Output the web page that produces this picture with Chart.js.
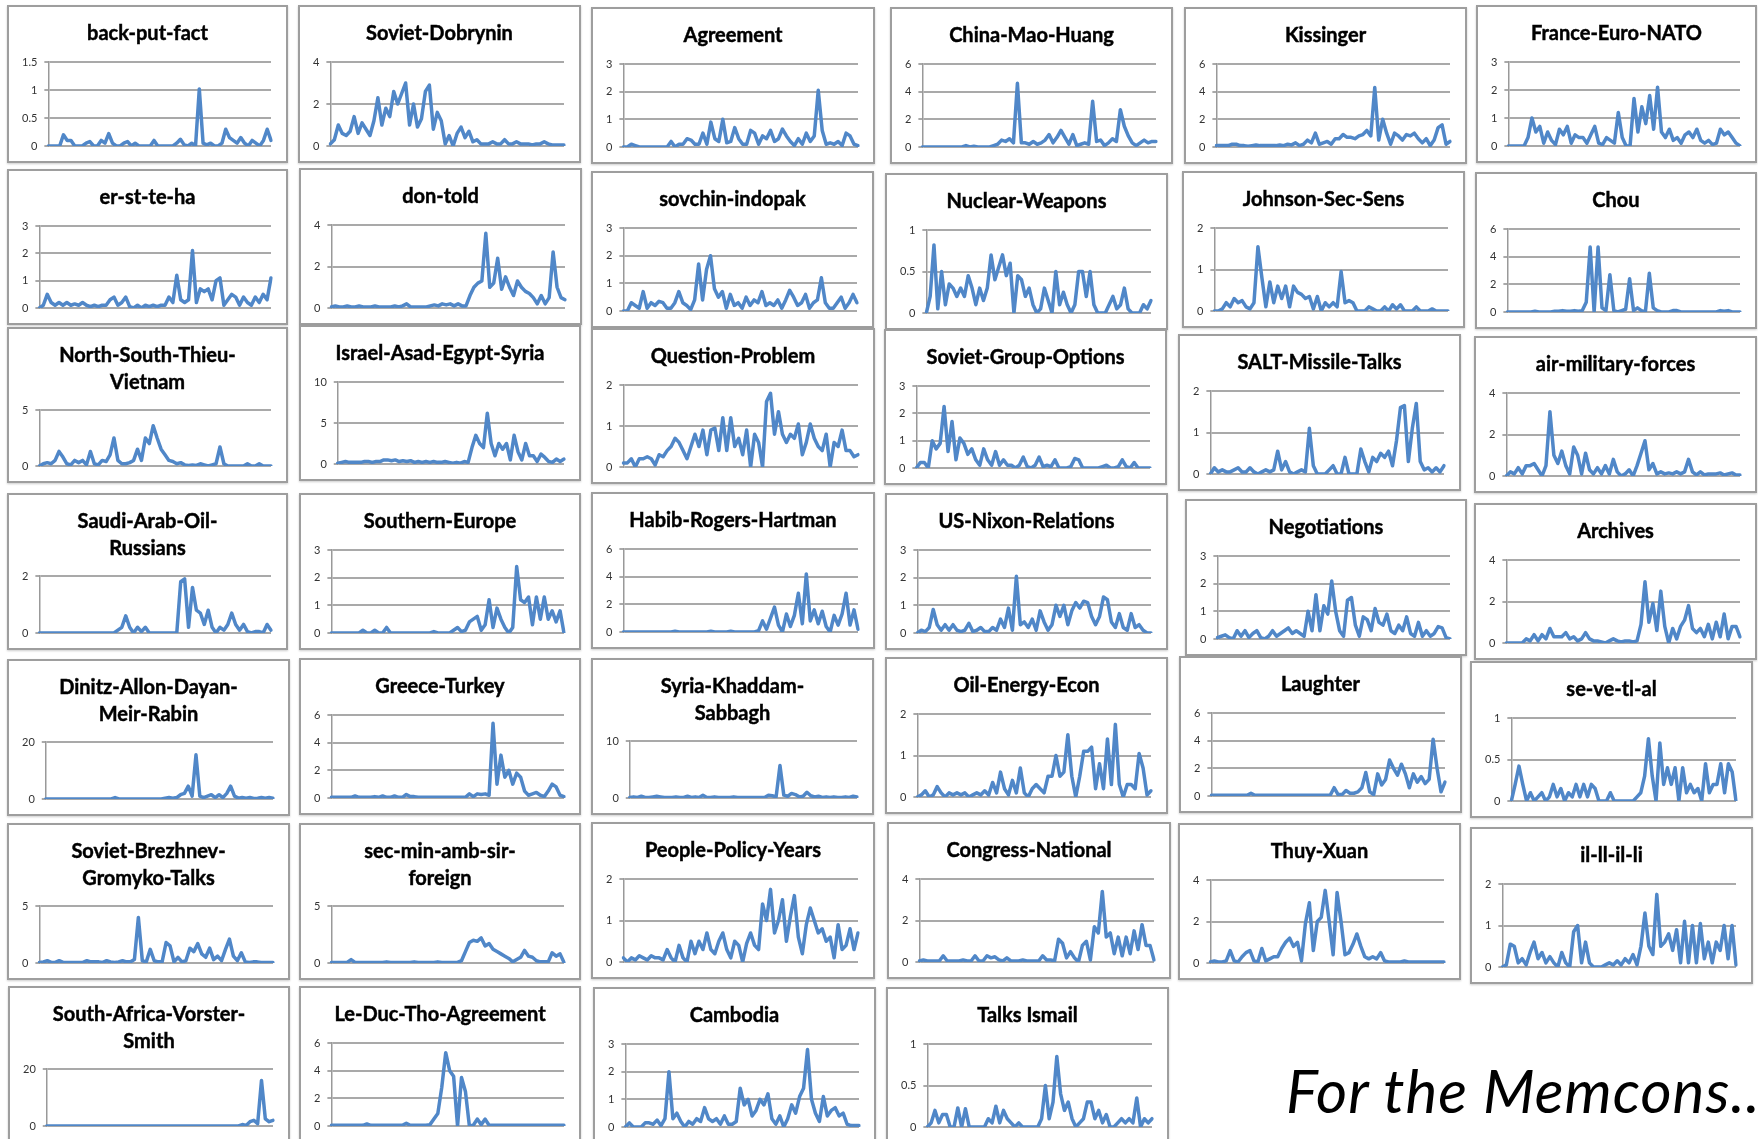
<!DOCTYPE html>
<html>
<head>
<meta charset="utf-8">
<script src="https://cdn.jsdelivr.net/npm/chart.js@4.4.1/dist/chart.umd.min.js"></script>
<style>
  html, body { margin: 0; padding: 0; background: #fff; }
  body { width: 1758px; height: 1139px; overflow: hidden; position: relative; }
  .panel {
    position: absolute; box-sizing: border-box; background: #fff;
    border: 2px solid #9e9e9e; box-shadow: 0 1px 2px rgba(0,0,0,0.2);
  }
  .panel .plot { position: absolute; left: 0; top: 0; right: 0; bottom: 0; }
  .panel .title {
    position: absolute; left: 0; right: 0; top: 12px; text-align: center;
    font-family: Lato, "Open Sans", sans-serif; font-weight: 700; font-size: 20px;
    -webkit-text-stroke: 0.45px #000;
    line-height: 27px; color: #000; white-space: nowrap; pointer-events: none;
  }
  #memcons {
    position: absolute; left: 1286px; top: 1054px; white-space: nowrap;
    font-family: Lato, "Open Sans", sans-serif; font-style: italic; font-size: 60px;
    letter-spacing: 1px; color: #000;
  }
</style>
</head>
<body>
<div id="memcons">For the Memcons..</div>
<script>
// topic titles, in reading order
var topics = [
  'back-put-fact', 'Soviet-Dobrynin', 'Agreement', 'China-Mao-Huang', 'Kissinger', 'France-Euro-NATO',
  'er-st-te-ha', 'don-told', 'sovchin-indopak', 'Nuclear-Weapons', 'Johnson-Sec-Sens', 'Chou',
  ['North-South-Thieu-', 'Vietnam'], 'Israel-Asad-Egypt-Syria', 'Question-Problem', 'Soviet-Group-Options', 'SALT-Missile-Talks', 'air-military-forces',
  ['Saudi-Arab-Oil-', 'Russians'], 'Southern-Europe', 'Habib-Rogers-Hartman', 'US-Nixon-Relations', 'Negotiations', 'Archives',
  ['Dinitz-Allon-Dayan-', 'Meir-Rabin'], 'Greece-Turkey', ['Syria-Khaddam-', 'Sabbagh'], 'Oil-Energy-Econ', 'Laughter', 'se-ve-tl-al',
  ['Soviet-Brezhnev-', 'Gromyko-Talks'], ['sec-min-amb-sir-', 'foreign'], 'People-Policy-Years', 'Congress-National', 'Thuy-Xuan', 'il-ll-il-li',
  ['South-Africa-Vorster-', 'Smith'], 'Le-Duc-Tho-Agreement', 'Cambodia', 'Talks Ismail'
];

// y axis top and tick step for each panel
var yMax  = [1.5, 4, 3, 6, 6, 3,  3, 4, 3, 1, 2, 6,  5, 10, 2, 3, 2, 4,  2, 3, 6, 3, 3, 4,  20, 6, 10, 2, 6, 1,  5, 5, 2, 4, 4, 2,  20, 6, 3, 1];
var yStep = [0.5, 2, 1, 2, 2, 1,  1, 2, 1, 0.5, 1, 2,  5, 5, 1, 1, 1, 2,  2, 1, 2, 1, 1, 2,  20, 2, 10, 1, 2, 0.5,  5, 5, 1, 2, 2, 1,  20, 2, 1, 0.5];

// time periods (x categories, unlabelled in the original)
var periods = Array.from({ length: 60 }, function (_, i) { return i + 1; });

var backPutFact = [0,0,0,0,0.2,0.1,0.1,0,0,0, 0.05,0.08,0,0,0.1,0.05,0.22,0.05,0,0, 0.05,0.08,0,0.05,0,0,0,0,0.1,0, 0,0,0,0,0.05,0.12,0.02,0,0.05,0, 1.02,0.05,0.02,0.05,0,0,0.05,0.3,0.15,0.1, 0.05,0.15,0.05,0,0.1,0.05,0,0.1,0.3,0.1];
var sovietDobrynin = [0.1,0.3,1.0,0.6,0.5,0.7,1.4,0.6,1.1,0.8, 0.5,1.2,2.3,1.0,1.8,1.4,2.6,2.0,2.5,3.0, 1.0,2.0,0.9,1.3,2.6,2.9,0.8,1.6,1.2,0.1, 0.5,0,0.6,0.9,0.4,0.7,0.2,0.3,0.1,0.1, 0.1,0.2,0.1,0.1,0.3,0.1,0.1,0.2,0.1,0.1, 0.1,0.05,0.1,0.1,0.2,0.1,0.05,0.05,0.05,0.05];
var agreement = [0,0,0.1,0.05,0,0,0,0,0,0, 0,0,0.2,0,0.1,0.1,0.3,0.25,0.1,0.1, 0.5,0.1,0.9,0.3,0.2,1.0,0.15,0.2,0.7,0.3, 0.1,0.1,0.6,0.5,0.1,0.4,0.3,0.6,0.2,0.3, 0.65,0.4,0.2,0.05,0.3,0.1,0.5,0.2,0.4,2.05, 0.6,0.1,0.15,0.1,0.2,0.05,0.5,0.4,0.1,0.05];
var chinaMaoHuang = [0,0,0,0,0,0,0,0,0,0, 0,0.1,0,0.05,0,0,0,0,0.1,0.2, 0.5,0.4,0.6,0.3,4.6,0.3,0.3,0.2,0.4,0.2, 0.3,0.5,0.9,0.3,0.7,1.2,0.7,0.2,0.9,0.1, 0.2,0.3,0.2,3.3,0.4,0.5,0.1,0.3,0.6,0.4, 2.7,1.5,0.8,0.3,0.1,0.3,0.5,0.3,0.4,0.4];
var kissinger = [0.1,0.1,0.1,0.1,0.2,0.2,0.1,0.1,0.05,0.1, 0.15,0.1,0.1,0.1,0.1,0.1,0.15,0.1,0.2,0.15, 0.3,0.1,0.2,0.5,0.3,1.0,0.2,0.3,0.4,0.2, 0.6,0.6,0.9,0.7,0.7,0.6,0.8,0.9,1.2,0.8, 4.3,0.5,2.0,1.0,0.2,1.0,0.8,0.5,0.9,0.8, 1.0,0.6,0.3,0.6,0.1,0.5,1.4,1.6,0.2,0.4];
var franceEuroNato = [0,0,0,0,0,0.3,1.0,0.5,0.7,0.1, 0.5,0.2,0.05,0.6,0.4,0.7,0.1,0.4,0.3,0.3, 0.1,0.4,0.7,0.1,0.05,0.3,0.2,0.1,1.2,0.3, 0,0,1.7,0.5,1.4,0.8,1.8,0.6,2.1,0.5, 0.3,0.6,0.2,0.3,0.1,0.4,0.5,0.3,0.6,0.2, 0.1,0.2,0.05,0.1,0.6,0.4,0.5,0.3,0.1,0];
var erStTeHa = [0,0.1,0.5,0.2,0.1,0.2,0.1,0.2,0.1,0.15, 0.1,0.2,0.1,0.05,0.1,0.05,0.1,0.1,0.3,0.4, 0.1,0.2,0.4,0.05,0,0.1,0,0.1,0.05,0.1, 0.05,0.1,0.1,0.4,0.2,1.2,0.3,0.2,0.3,2.1, 0.2,0.7,0.6,0.7,0.3,1.0,1.1,0.1,0.3,0.5, 0.4,0.1,0.4,0.2,0.1,0.4,0.2,0.5,0.3,1.1];
var donTold = [0.05,0.1,0.05,0.05,0.1,0.05,0.05,0.1,0.05,0.05, 0.05,0.1,0.05,0.05,0.05,0.05,0.1,0.05,0.1,0.2, 0.05,0.05,0.05,0.05,0.05,0.1,0.15,0.1,0.2,0.15, 0.2,0.1,0.2,0.1,0.1,0.6,1.0,1.2,1.3,3.6, 1.0,1.2,2.4,0.9,1.5,1.0,0.6,1.3,1.0,0.8, 0.7,0.5,0.2,0.6,0.2,0.5,2.7,1.0,0.5,0.4];
var sovchinIndopak = [0,0,0.3,0.2,0.1,0.7,0.1,0.3,0.2,0.35, 0.3,0.1,0.1,0.3,0.7,0.3,0.2,0.05,0.4,1.7, 0.4,1.5,2.0,0.8,0.5,0.7,0.1,0.6,0.2,0.3, 0.1,0.5,0.2,0.4,0.3,0.7,0.2,0.3,0.2,0.4, 0.1,0.4,0.75,0.5,0.2,0.3,0.6,0.1,0.3,0.4, 1.2,0.3,0.1,0.1,0.3,0.5,0.1,0.3,0.6,0.3];
var nuclearWeapons = [0,0.2,0.82,0.05,0.5,0.1,0.35,0.3,0.2,0.3, 0.2,0.45,0.3,0.1,0.3,0.15,0.3,0.7,0.4,0.55, 0.7,0.45,0.6,0,0.45,0.4,0.2,0.3,0.1,0, 0.05,0.3,0.15,0,0.5,0.1,0.25,0.1,0,0.1, 0.5,0.5,0.2,0.5,0.1,0,0,0,0.1,0.2, 0.05,0.1,0.3,0.05,0,0,0,0.1,0.05,0.15];
var johnsonSecSens = [0,0,0.05,0.2,0.1,0.3,0.2,0.25,0.1,0.05, 0.2,1.55,0.8,0.1,0.7,0.2,0.6,0.3,0.6,0.1, 0.6,0.45,0.4,0.3,0.35,0.05,0.35,0,0.2,0.1, 0.2,0.1,0.95,0.2,0.25,0.2,0,0,0,0.1, 0.05,0,0,0.1,0,0.15,0.05,0.15,0,0, 0,0.1,0,0,0,0.05,0,0,0,0];
var chou = [0,0,0,0,0,0,0,0.05,0,0, 0,0,0.05,0.05,0.1,0.05,0.05,0.1,0.05,0.1, 0.7,4.7,0,4.7,0.3,0.1,2.7,0.1,0,0.1, 0.2,2.4,0.1,0.3,0.1,0,2.8,0.3,0.1,0, 0,0,0.1,0.1,0,0,0,0,0,0, 0,0,0,0,0.1,0.05,0.1,0,0,0];
var northSouthThieu = [0,0.2,0.3,0.2,0.5,1.3,0.8,0.2,0.1,0.5, 0.3,0.5,0.1,1.3,0.2,0.1,0.5,0.4,1.0,2.5, 0.5,0.2,0.2,0.3,0.5,1.5,0.5,2.5,2.0,3.6, 2.5,1.5,1.0,0.5,0.4,0.2,0.3,0.1,0.05,0.1, 0.05,0.2,0.1,0,0.1,0.2,1.7,0.2,0,0, 0,0,0,0.2,0,0,0.2,0,0,0];
var israelAsad = [0.1,0.2,0.3,0.2,0.2,0.2,0.2,0.3,0.3,0.2, 0.3,0.3,0.5,0.5,0.4,0.5,0.3,0.4,0.3,0.4, 0.2,0.3,0.2,0.3,0.2,0.3,0.2,0.2,0.3,0.2, 0.1,0.2,0.1,0.3,0.2,2.0,3.5,2.5,2.0,6.2, 2.5,1.0,2.5,1.8,2.5,0.5,3.5,1.5,0.5,2.5, 1.0,1.0,0.3,1.2,0.8,0.3,0.2,0.6,0.3,0.6];
var questionProblem = [0.1,0.1,0.2,0,0.2,0.2,0.25,0.2,0.05,0.3, 0.25,0.4,0.5,0.7,0.6,0.4,0.2,0.5,0.8,0.5, 0.9,0.3,0.9,0.95,0.4,1.2,0.4,1.2,0.5,0.7, 0.3,0.9,0,0.8,0.6,0,1.6,1.8,0.8,1.35, 0.8,0.6,0.8,0.7,1.05,0.3,0.6,1.05,0.7,0.5, 0.4,0.8,0,0.6,0.5,0.9,0.4,0.4,0.25,0.3];
var sovietGroupOptions = [0,0.2,0.2,0,1.0,0.7,0.9,2.25,0.6,1.7, 0.3,1.1,0.9,0.5,0.7,0.3,0.1,0.7,0.3,0.1, 0.6,0.1,0.3,0.1,0.1,0,0.1,0.4,0.05,0, 0.1,0.4,0.05,0.1,0.05,0.3,0,0,0,0.05, 0.35,0.3,0,0,0,0,0,0.05,0.1,0, 0,0.05,0.3,0.05,0,0.2,0,0,0,0];
var saltMissileTalks = [0,0.15,0.05,0.1,0.05,0.05,0.1,0.15,0.05,0.05, 0.15,0.05,0,0.05,0.1,0.05,0.1,0.55,0.1,0.3, 0.05,0,0.05,0.1,0.05,1.1,0.2,0,0,0, 0.1,0.2,0,0,0.4,0,0,0,0.6,0.3, 0.05,0.4,0.3,0.5,0.4,0.55,0.2,0.8,1.6,1.65, 0.3,1.1,1.7,0.3,0.1,0.15,0.05,0.15,0.05,0.2];
var airMilitaryForces = [0,0.2,0.1,0.4,0.1,0.5,0.5,0.6,0.3,0, 0.5,3.1,1.0,0.6,1.2,0.5,0.1,1.4,1.0,0.1, 1.1,0.3,0.1,0.4,0.1,0.5,0.1,0.8,0.2,0, 0.1,0.3,0,0.5,1.1,1.7,0.3,0.6,0.1,0.2, 0.1,0.15,0.1,0.2,0.1,0.2,0.8,0.2,0.05,0.2, 0.05,0.1,0.1,0.1,0.15,0.05,0.1,0.15,0.05,0.05];
var saudiArabOil = [0,0,0,0,0,0,0,0,0,0, 0,0,0,0,0,0,0,0,0,0, 0.1,0.2,0.6,0.2,0,0.2,0.05,0.2,0,0, 0,0,0,0,0,0,1.8,1.9,0.2,1.6, 0.8,0.7,0.3,0.8,0.2,0,0.2,0.1,0.3,0.7, 0.3,0.1,0.3,0.05,0,0.05,0.05,0,0.3,0.1];
var southernEurope = [0,0,0,0,0,0,0,0,0.1,0, 0,0.1,0,0,0.2,0,0,0,0,0, 0,0,0,0,0,0,0.05,0,0,0, 0,0.1,0.2,0.05,0.1,0.4,0.5,0.6,0.1,0.3, 1.2,0.2,0.9,0.5,0.2,0,0.2,2.4,1.2,1.1, 1.3,0.3,1.3,0.5,1.3,0.5,0.8,0.4,0.8,0];
var habibRogers = [0,0,0,0,0,0,0,0,0,0, 0,0,0,0.05,0,0,0,0,0,0, 0,0,0.05,0,0,0,0,0.05,0,0, 0,0,0,0,0.1,0.8,0.2,1.0,1.8,0.5, 0,1.3,0.4,1.2,2.8,0.6,4.2,0.8,1.6,0.6, 1.5,0.4,0,1.2,0.5,1.3,2.8,0.5,1.6,0.2];
var usNixon = [0,0.1,0.05,0.2,0.85,0.3,0.1,0.3,0.1,0.3, 0.1,0.05,0.1,0.35,0.05,0.1,0.2,0.05,0.05,0.2, 0.1,0.5,0.2,0.9,0.1,2.05,0.3,0.4,0.2,0.5, 0.1,0.8,0.4,0.1,0.3,1.0,0.6,1.0,0.3,0.8, 1.1,0.9,1.15,1.1,0.6,0.3,0.6,1.3,1.2,0.4, 0.2,0.7,0.2,0.1,0.7,0.2,0.3,0.1,0,0];
var negotiations = [0.05,0.1,0.15,0.05,0,0.3,0.1,0.3,0.05,0.2, 0.3,0.05,0,0.1,0.3,0.1,0.2,0.3,0.4,0.2, 0.3,0.2,0.1,1.0,0.3,1.6,0.3,1.2,0.9,2.1, 1.0,0.3,0.1,1.4,1.5,0.5,0.1,0.8,0.7,0.3, 1.1,0.6,0.5,0.9,0.3,0.2,0.5,0.3,0.8,0.2, 0.1,0.6,0.1,0.3,0.1,0.2,0.45,0.4,0.05,0];
var archives = [0,0,0,0,0,0.2,0.1,0.4,0.1,0.4, 0.2,0.7,0.3,0.3,0.3,0.5,0.2,0.3,0.1,0.2, 0.5,0.2,0.1,0.1,0.05,0,0.1,0.2,0.1,0.05, 0.1,0.1,0.05,0.1,0.9,2.95,1.0,1.9,0.6,2.5, 0.8,0,0.7,0.2,0.8,1.1,1.8,0.7,0.5,0.7, 0.3,0.9,0.2,1.0,0.3,1.4,0.2,0.8,0.8,0.3];
var dinitzAllon = [0,0,0,0,0,0,0,0,0,0, 0,0,0,0,0,0,0,0,0.5,0, 0,0,0,0,0,0,0,0,0,0, 0,0.3,0.5,0.3,0.5,1.5,2.0,4.5,1.0,15.5, 1.0,0.5,1.0,1.5,0.5,1.5,0.5,2.0,4.5,1.0, 0.3,0.5,0.3,0.5,0.2,0.3,0.5,0.3,0.5,0.3];
var greeceTurkey = [0.05,0.05,0.05,0.05,0.05,0.05,0.15,0.05,0.05,0.05, 0.05,0.1,0.05,0.15,0.05,0.05,0.15,0.05,0.05,0.25, 0.1,0.1,0.05,0.05,0.05,0.05,0.05,0.05,0.05,0.05, 0.05,0.05,0.05,0.05,0.05,0.3,0.1,0.3,0.25,0.3, 0.2,5.4,1.0,3.1,1.5,2.0,1.0,1.8,1.5,0.5, 0.2,0.3,0.4,0.2,0.1,0.5,1.0,0.8,0.2,0.1];
var syriaKhaddam = [0.1,0.2,0.1,0.3,0.1,0.1,0.2,0.3,0.2,0.1, 0.1,0.1,0.2,0.1,0.1,0.3,0.1,0.2,0.1,0.5, 0.1,0.1,0.2,0.1,0.1,0.1,0.1,0.2,0.1,0.1, 0.1,0.1,0.1,0.1,0.1,0.1,0.5,0.4,0.2,5.7, 0.5,0.3,0.8,0.6,0.2,0.3,1.0,0.4,0.2,0.3, 0.1,0.2,0.1,0.2,0.1,0.1,0.2,0.1,0.3,0.2];
var oilEnergyEcon = [0,0.05,0.15,0,0.05,0.25,0.1,0,0.1,0.05, 0.1,0.05,0.1,0,0.05,0.1,0.05,0.15,0.05,0.35, 0.1,0.6,0.2,0.05,0.4,0.1,0.7,0.1,0,0.2, 0.3,0.2,0.1,0.5,0.5,1.0,0.5,0.6,1.5,0.5, 0,0.5,1.1,1.1,1.2,0.2,0.8,0.2,1.4,0.3, 1.75,0.3,0,0.3,0.3,0.2,1.05,0.7,0.05,0.15];
var laughter = [0.05,0.05,0.05,0.05,0.05,0.05,0.05,0.05,0.05,0.05, 0.2,0.05,0.05,0.05,0.05,0.05,0.05,0.05,0.05,0.05, 0.05,0.05,0.05,0.05,0.05,0.05,0.05,0.05,0.05,0.05, 0.05,0.6,0.1,0.1,0.4,0.2,0.2,0.3,0.6,1.7, 0.3,0.1,1.6,0.8,1.2,2.6,2.0,1.5,2.3,1.6, 0.6,1.6,1.0,1.4,0.9,1.2,4.1,2.0,0.3,1.0];
var seVeTlAl = [0,0.2,0.42,0.2,0,0.1,0,0.05,0.1,0, 0.05,0.2,0.05,0.15,0,0.1,0.05,0.2,0.05,0.2, 0.05,0.2,0.15,0,0,0,0.1,0,0,0, 0,0,0,0.05,0.1,0.3,0.75,0.3,0,0.7, 0.2,0.4,0.2,0.4,0,0.4,0.1,0.2,0.1,0.15, 0,0.45,0.1,0.2,0.2,0.45,0.1,0.45,0.35,0];
var sovietBrezhnev = [0.05,0.1,0.2,0.05,0.05,0.2,0.05,0.05,0.05,0.05, 0.05,0.05,0.2,0.1,0.1,0.1,0.05,0.2,0.1,0.05, 0.1,0.2,0.1,0.1,0.3,4.0,0.2,0.1,1.2,0.2, 0.1,0.1,1.8,1.5,0.1,0.5,0.1,0.2,1.3,1.0, 1.7,0.8,0.5,1.3,0.3,0.6,0.2,1.2,2.1,0.6, 0.2,0.9,0.1,0.05,0.1,0.1,0.05,0.05,0.05,0.05];
var secMinAmb = [0.05,0.05,0.05,0.05,0.05,0.3,0.05,0.05,0.05,0.05, 0.05,0.05,0.05,0.05,0.1,0.05,0.05,0.05,0.05,0.05, 0.05,0.1,0.05,0.05,0.05,0.05,0.05,0.1,0.05,0.05, 0.05,0.05,0.05,0.2,1.0,1.8,2.0,1.9,2.2,1.5, 1.7,1.2,1.0,0.8,0.6,0.4,0.1,0.3,0.5,1.1, 0.6,0.5,0.2,0.1,0.1,0.1,0.9,0.6,0.8,0.05];
var peoplePolicyYears = [0.1,0,0.1,0.05,0.15,0.1,0.05,0.15,0.1,0.1, 0.05,0.3,0.1,0,0.4,0.1,0,0.5,0.2,0.5, 0.3,0.7,0.3,0.2,0.5,0.7,0.3,0.1,0.5,0.4, 0,0.45,0.7,0.4,0.3,1.4,1.0,1.75,0.7,1.0, 1.5,0.5,1.1,1.6,0.6,0.2,0.9,1.3,1.0,0.7, 0.8,0.5,0.6,0.1,0.9,0.3,0.4,0.8,0.3,0.7];
var congressNational = [0.05,0.1,0.05,0.05,0.05,0.05,0.3,0.05,0.05,0.05, 0.05,0.1,0.05,0.05,0.3,0.05,0.05,0.3,0.2,0.25, 0.1,0.05,0.2,0.05,0.05,0.05,0.1,0.05,0.05,0.05, 0.05,0.3,0.1,0.1,0.05,1.1,0.9,0.2,0.5,0.2, 0,0.8,1.0,0.1,1.7,1.4,3.4,1.2,1.4,0.4, 1.2,0.3,1.2,0.4,1.5,0.6,1.8,0.8,0.8,0.1];
var thuyXuan = [0.05,0.1,0.05,0.05,0.1,0.6,0.1,0.05,0.3,0.5, 0.6,0.1,0.05,0.7,0.1,0.2,0.3,0.3,0.7,1.0, 1.2,0.8,1.0,0.1,1.9,2.9,0.6,2.0,2.2,3.5, 2.0,0.4,3.4,2.0,0.4,0.5,0.9,1.4,0.8,0.3, 0.2,0.3,0.2,0.5,0.1,0.05,0.05,0.05,0.05,0.1, 0.05,0.05,0.05,0.05,0.05,0.05,0.05,0.05,0.05,0.05];
var ilLlIlLi = [0,0.05,0.55,0.5,0.1,0.2,0.05,0.35,0.6,0.2, 0.35,0.1,0.25,0.1,0,0.35,0.1,0,0.85,1.0, 0.1,0.6,0.1,0,0,0,0.05,0.1,0.05,0.15, 0.05,0.2,0.1,0.3,0.05,0.5,1.3,0.5,0.3,1.75, 0.5,0.6,0.8,0.4,0.9,0.1,1.1,0.1,1.0,0.1, 1.05,0.2,0.6,0.1,0.6,0.4,1.0,0.2,1.0,0.05];
var southAfricaVorster = [0,0,0,0,0,0,0,0,0,0, 0,0,0,0,0,0,0,0,0,0, 0,0,0,0,0,0,0,0,0,0, 0,0,0,0,0,0,0,0,0,0, 0,0,0,0,0,0,0,0,0,0, 0,0.5,0.2,1.5,2.0,0.8,16,2.5,1.5,2.0];
var leDucTho = [0.05,0.05,0.05,0.05,0.05,0.05,0.05,0.05,0.05,0.15, 0.05,0.05,0.05,0.05,0.05,0.05,0.05,0.05,0.05,0.2, 0.05,0.05,0.05,0.05,0.05,0.1,0.5,0.9,2.8,5.3, 4.0,3.6,0,3.5,2.5,0,0.05,0.5,0.1,0.5, 0.05,0.05,0.05,0.05,0.05,0.05,0.05,0.05,0.05,0.05, 0.05,0.05,0.05,0.05,0.05,0.05,0.05,0.05,0.05,0.05];
var cambodia = [0,0.15,0,0,0,0.15,0.15,0.1,0.25,0.05, 0.3,2.0,0.3,0.5,0.2,0,0.2,0.1,0.3,0.2, 0.7,0.3,0.2,0.3,0.1,0.4,0.1,0.1,0.2,1.4, 0.8,1.0,0.4,0.6,1.0,0.8,1.2,0.3,0.1,0.4, 0,0.3,0.8,0.5,1.1,1.4,2.8,1.0,0.5,0.2, 1.1,0.4,0.6,0.7,0.4,0.5,0.1,0.05,0.05,0.05];
var talksIsmail = [0,0.05,0.2,0.05,0.15,0.15,0,0,0.23,0, 0.22,0,0,0,0,0,0.1,0.05,0.25,0.05, 0.2,0.1,0.05,0,0.05,0,0,0,0,0, 0.1,0.5,0.1,0.3,0.85,0.4,0.2,0.3,0.1,0, 0.05,0.1,0.3,0.3,0.1,0.2,0.05,0.15,0,0, 0.05,0.1,0.05,0.1,0.05,0.35,0,0.1,0.05,0.1];

var series = [
  backPutFact, sovietDobrynin, agreement, chinaMaoHuang, kissinger, franceEuroNato,
  erStTeHa, donTold, sovchinIndopak, nuclearWeapons, johnsonSecSens, chou,
  northSouthThieu, israelAsad, questionProblem, sovietGroupOptions, saltMissileTalks, airMilitaryForces,
  saudiArabOil, southernEurope, habibRogers, usNixon, negotiations, archives,
  dinitzAllon, greeceTurkey, syriaKhaddam, oilEnergyEcon, laughter, seVeTlAl,
  sovietBrezhnev, secMinAmb, peoplePolicyYears, congressNational, thuyXuan, ilLlIlLi,
  southAfricaVorster, leDucTho, cambodia, talksIsmail
];

// panel boxes on the page: left, top, right, bottom
var boxes = [
  [7,5,288,163], [298,5,581,163], [591,7,875,164], [890,7,1173,164], [1184,7,1467,164], [1476,5,1757,163],
  [7,169,288,325], [299,168,582,325], [591,171,874,328], [885,173,1168,330], [1182,171,1465,328], [1475,172,1757,329],
  [7,327,288,483], [299,325,581,481], [591,328,875,484], [884,329,1167,485], [1178,334,1461,491], [1474,336,1757,493],
  [7,493,288,650], [299,493,581,650], [591,492,875,649], [885,493,1168,650], [1185,499,1467,656], [1474,503,1757,660],
  [7,659,290,816], [299,658,581,815], [591,658,874,815], [885,657,1168,814], [1179,656,1462,813], [1470,661,1753,818],
  [7,823,290,980], [299,823,581,980], [591,822,875,979], [887,822,1171,979], [1178,823,1461,980], [1470,827,1753,984],
  [8,986,290,1143], [299,986,581,1143], [593,987,876,1144], [886,987,1169,1144]
];

function makePanel(i) {
  var b = boxes[i];
  var lines = Array.isArray(topics[i]) ? topics[i] : [topics[i]];

  var panel = document.createElement('div');
  panel.className = 'panel';
  panel.style.left = b[0] + 'px';
  panel.style.top = b[1] + 'px';
  panel.style.width = (b[2] - b[0]) + 'px';
  panel.style.height = (b[3] - b[1]) + 'px';

  var holder = document.createElement('div');
  holder.className = 'plot';
  var canvas = document.createElement('canvas');
  holder.appendChild(canvas);
  panel.appendChild(holder);

  var title = document.createElement('div');
  title.className = 'title';
  title.innerHTML = lines.join('<br>');
  panel.appendChild(title);

  document.body.appendChild(panel);

  new Chart(canvas.getContext('2d'), {
    type: 'line',
    data: {
      labels: periods,
      datasets: [{
        data: series[i],
        borderColor: '#5087c8',
        borderWidth: 3.5,
        borderJoinStyle: 'round',
        borderCapStyle: 'round',
        pointRadius: 0,
        tension: 0,
        fill: false
      }]
    },
    options: {
      responsive: true,
      maintainAspectRatio: false,
      animation: false,
      events: [],
      layout: { padding: { left: 6, right: 15, top: lines.length > 1 ? 81 : 55, bottom: 15 } },
      plugins: { legend: { display: false }, tooltip: { enabled: false } },
      scales: {
        x: { display: false },
        y: {
          min: 0,
          max: yMax[i],
          ticks: {
            stepSize: yStep[i], padding: 7, color: '#333', font: { family: 'Lato', size: 11 },
            callback: function (v) { return String(v); }
          },
          grid: { color: '#a9a9a9', lineWidth: 2, tickLength: 4 },
          border: { display: true, color: '#999', width: 1.5 }
        }
      }
    }
  });
}

for (var i = 0; i < series.length; i++) {
  makePanel(i);
}
</script>
</body>
</html>
